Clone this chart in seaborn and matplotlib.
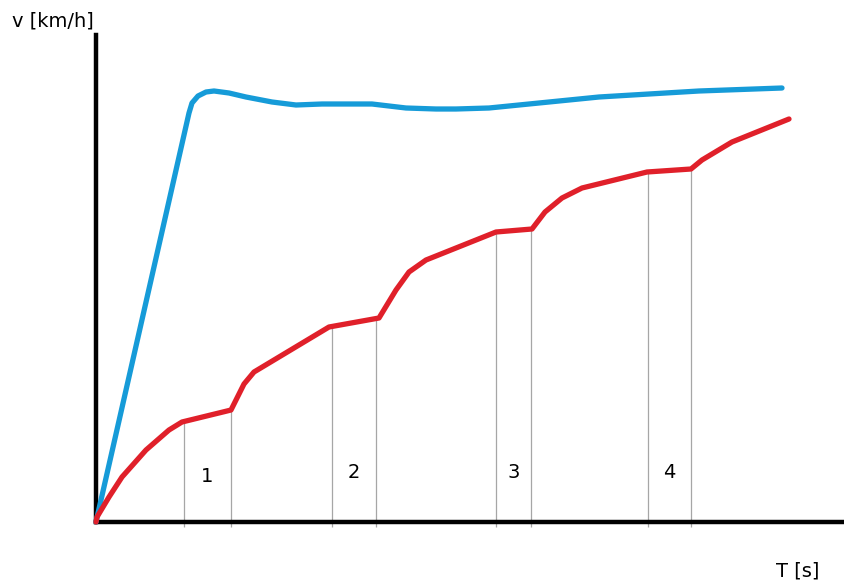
import matplotlib
matplotlib.use("Agg")
import matplotlib.pyplot as plt
import seaborn as sns
import pandas as pd
import numpy as np

# sketch values (arbitrary units: time to the right, speed upward)
blue_t = [0, 93, 96, 102, 110, 118, 133, 150, 176, 200, 226, 276, 310, 340, 360,
          393, 423, 503, 603, 686]
blue_v = [0, 409, 419, 426, 430, 431, 429, 425, 420, 417, 418, 418, 414, 413, 413,
          414, 417, 425, 431, 434]

red_t = [0, 1, 13, 26, 50, 73, 86, 131, 135, 148, 158, 173, 233, 283, 300, 313,
         330, 400, 436, 449, 466, 486, 551, 595, 606, 636, 693]
red_v = [0, 5, 25, 45, 72, 92, 100, 111, 112, 138, 150, 159, 195, 204, 232, 250,
         262, 290, 293, 310, 324, 334, 350, 353, 362, 380, 403]

gear_change_t = [88, 135, 236, 280, 400, 435, 552, 595]
gear_labels = ["1", "2", "3", "4"]

blue_df = pd.DataFrame({"t": blue_t, "v": blue_v})
red_df = pd.DataFrame({"t": red_t, "v": red_v})

sns.set_style("white")
plt.rcParams["font.family"] = ["DejaVu Sans"]

W, H = 845, 583
fig = plt.figure(figsize=(W / 100, H / 100), dpi=100)
ax = fig.add_axes([96 / W, (H - 522) / H, (W - 96) / W, (522 - 35) / H])
ax.set_xlim(0, 749)
ax.set_ylim(0, 487)

# thin grey markers at each gear change, from the axis up to the red curve
tops = np.interp(gear_change_t, red_t, red_v)
ax.vlines(gear_change_t, -5, tops, color="#a6a6a6", linewidth=0.9, clip_on=False, zorder=1)

sns.lineplot(data=blue_df, x="t", y="v", ax=ax, color="#169bd8", linewidth=3.8,
             sort=False, estimator=None, zorder=3)
sns.lineplot(data=red_df, x="t", y="v", ax=ax, color="#e0202a", linewidth=3.8,
             sort=False, estimator=None, zorder=4)
for line in ax.get_lines():
    line.set_solid_capstyle("round")
    line.set_solid_joinstyle("round")
    line.set_clip_on(False)

# gear numbers sit between each pair of markers
for i, lab in enumerate(gear_labels):
    mid = (gear_change_t[2 * i] + gear_change_t[2 * i + 1]) / 2
    ax.text(mid, 46 if i == 0 else 50, lab, ha="center", va="center",
            fontsize=14, color="black")

ax.set_xticks([])
ax.set_yticks([])
ax.set_xlabel("")
ax.set_ylabel("")
for side in ["top", "right"]:
    ax.spines[side].set_visible(False)
for side in ["left", "bottom"]:
    ax.spines[side].set_color("black")
    ax.spines[side].set_linewidth(3.2)

fig.text(53 / W, 1 - 21 / H, "v [km/h]", ha="center", va="center", fontsize=14, color="black")
fig.text(798 / W, 1 - 571 / H, "T [s]", ha="center", va="center", fontsize=14, color="black")

fig.savefig("out.png", dpi=100)
